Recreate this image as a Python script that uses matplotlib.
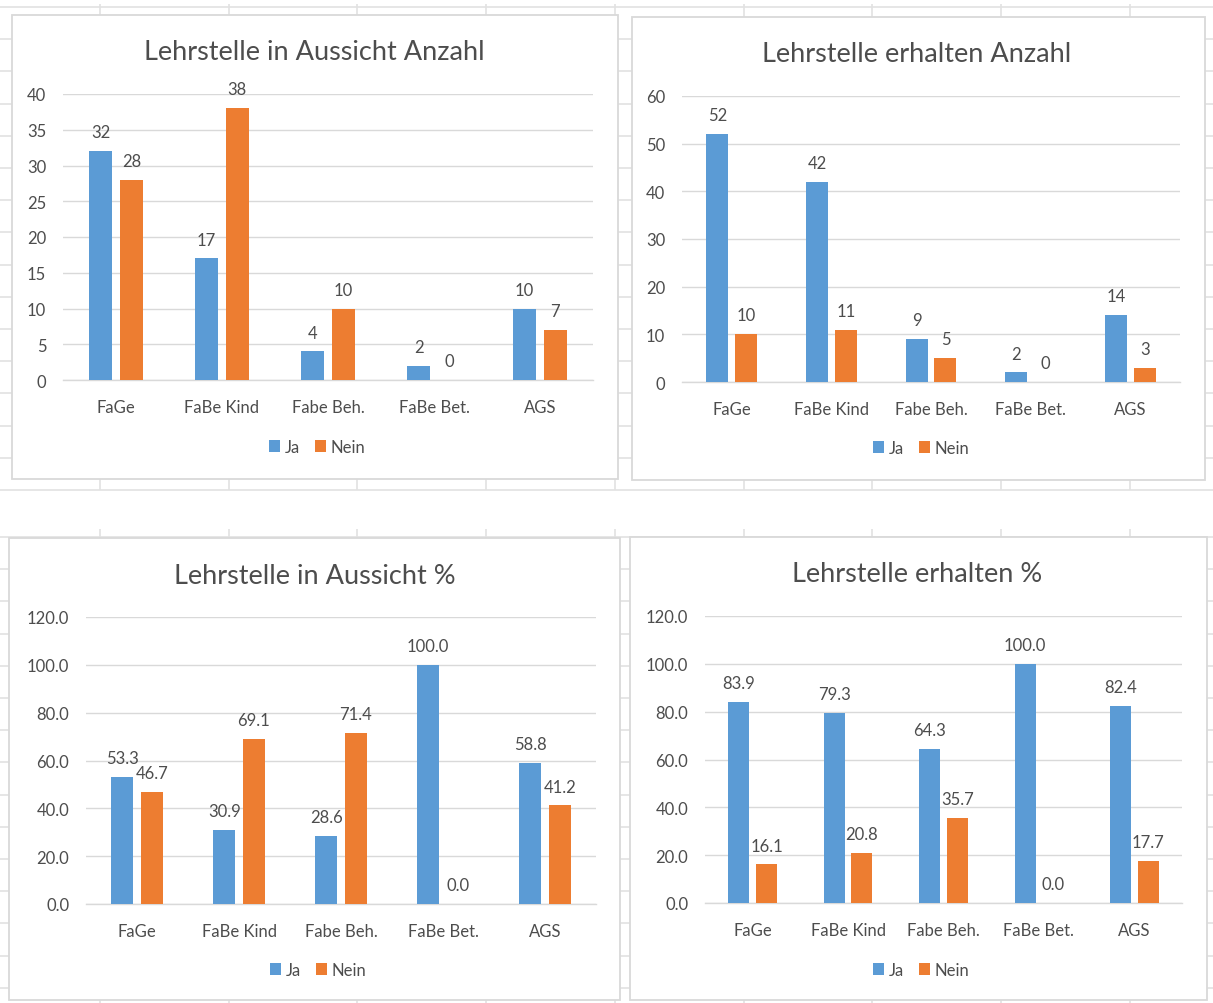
import matplotlib
matplotlib.use('Agg')

import matplotlib.pyplot as plt
from matplotlib.patches import Rectangle
import numpy as np

W, H = 1213, 1004

plt.rcParams['font.family'] = ['Lato', 'DejaVu Sans']

# ---- data -----------------------------------------------------------------
categories = ['FaGe', 'FaBe Kind', 'Fabe Beh.', 'FaBe Bet.', 'AGS']
series_names = ['Ja', 'Nein']

aussicht_ja = [32, 17, 4, 2, 10]
aussicht_nein = [28, 38, 10, 0, 7]
erhalten_ja = [52, 42, 9, 2, 14]
erhalten_nein = [10, 11, 5, 0, 3]

aussicht_ja_pct = [53.3, 30.9, 28.6, 100.0, 58.8]
aussicht_nein_pct = [46.7, 69.1, 71.4, 0.0, 41.2]
erhalten_ja_pct = [83.9, 79.3, 64.3, 100.0, 82.4]
erhalten_nein_pct = [16.1, 20.8, 35.7, 0.0, 17.7]

anzahl_ticks_aussicht = [0, 5, 10, 15, 20, 25, 30, 35, 40]
anzahl_ticks_erhalten = [0, 10, 20, 30, 40, 50, 60]
pct_ticks = [0, 20, 40, 60, 80, 100, 120]

# ---- styles ---------------------------------------------------------------
BLUE = '#5B9BD5'
ORANGE = '#ED7D31'
TEXT = '#4D4D4D'
GRID = '#D9D9D9'
SHEET = '#E2E2E2'
FS = 12


def px_rect(x0, y0, x1, y1):
    # pixel box (top-left origin) -> figure fraction
    return [x0 / W, 1 - y1 / H, (x1 - x0) / W, (y1 - y0) / H]


fig = plt.figure(figsize=(W / 100, H / 100), dpi=100)
fig.patch.set_facecolor('white')

# spreadsheet cells behind the charts
bg = fig.add_axes([0, 0, 1, 1])
bg.set_xlim(0, W)
bg.set_ylim(H, 0)
bg.axis('off')

row_h = 32.2
col_w = 128.7
cols = [100 + col_w * k for k in range(9)]
bg.hlines([8 + row_h * k for k in range(16)], 0, W, color=SHEET, lw=1.2)
bg.hlines([538 + row_h * k for k in range(15)], 0, W, color=SHEET, lw=1.2)
bg.vlines(cols, 5, 491, color=SHEET, lw=1.2)
bg.vlines(cols, 530, H, color=SHEET, lw=1.2)

# chart boxes
boxes = [(12, 16, 618, 480), (632, 18, 1205, 481),
         (9, 539, 620, 1001), (630, 538, 1207, 1001)]
for x0, y0, x1, y1 in boxes:
    bg.add_patch(Rectangle((x0, y0), x1 - x0, y1 - y0, facecolor='white',
                           edgecolor=GRID, lw=1.3, zorder=2))


def bar_chart(plot_px, title, title_xy, legend_xy, ja, nein, ticks, fmt):
    ax = fig.add_axes(px_rect(*plot_px))
    ax.set_facecolor('none')
    x = np.arange(len(categories))
    w = 0.22
    off = 0.145
    b1 = ax.bar(x - off, ja, w, color=BLUE, label=series_names[0], zorder=3)
    b2 = ax.bar(x + off, nein, w, color=ORANGE, label=series_names[1], zorder=3)

    # value labels above each bar
    for bars, vals in ((b1, ja), (b2, nein)):
        for rect, v in zip(bars, vals):
            ax.annotate(fmt.format(v), (rect.get_x() + rect.get_width() / 2, v),
                        xytext=(0, 10), textcoords='offset points',
                        ha='center', va='baseline', fontsize=FS, color=TEXT)

    ax.set_xlim(-0.5, len(categories) - 0.5)
    ax.set_ylim(ticks[0], ticks[-1])
    ax.set_yticks(ticks)
    ax.set_yticklabels([fmt.format(t) for t in ticks])
    ax.set_xticks(x)
    ax.set_xticklabels(categories)
    ax.grid(axis='y', color=GRID, lw=1.0, zorder=0)
    ax.set_axisbelow(True)
    for s in ['top', 'right', 'left']:
        ax.spines[s].set_visible(False)
    ax.spines['bottom'].set_color(GRID)
    ax.spines['bottom'].set_linewidth(1.0)
    ax.tick_params(axis='y', length=0, pad=12, labelsize=FS, labelcolor=TEXT)
    ax.tick_params(axis='x', length=0, pad=13.5, labelsize=FS, labelcolor=TEXT)

    fig.text(title_xy[0] / W, 1 - title_xy[1] / H, title, ha='center', va='center',
             fontsize=19.5, color=TEXT)
    ax.legend(loc='center', bbox_to_anchor=(legend_xy[0] / W, 1 - legend_xy[1] / H),
              bbox_transform=fig.transFigure, ncol=2, frameon=False,
              handlelength=0.7, handleheight=0.7, handletextpad=0.25,
              columnspacing=0.9, fontsize=FS, labelcolor=TEXT)
    return ax


bar_chart((63, 95, 593, 381), 'Lehrstelle in Aussicht Anzahl', (314, 53), (317, 448),
          aussicht_ja, aussicht_nein, anzahl_ticks_aussicht, '{:.0f}')
bar_chart((682, 97, 1180, 383), 'Lehrstelle erhalten Anzahl', (917, 54), (921, 449),
          erhalten_ja, erhalten_nein, anzahl_ticks_erhalten, '{:.0f}')
bar_chart((86, 618, 596, 905), 'Lehrstelle in Aussicht %', (315, 577), (318, 971),
          aussicht_ja_pct, aussicht_nein_pct, pct_ticks, '{:.1f}')
bar_chart((705, 617, 1182, 904), 'Lehrstelle erhalten %', (917, 575), (921, 971),
          erhalten_ja_pct, erhalten_nein_pct, pct_ticks, '{:.1f}')

plt.savefig('out.png', dpi=100)
plt.close('all')
